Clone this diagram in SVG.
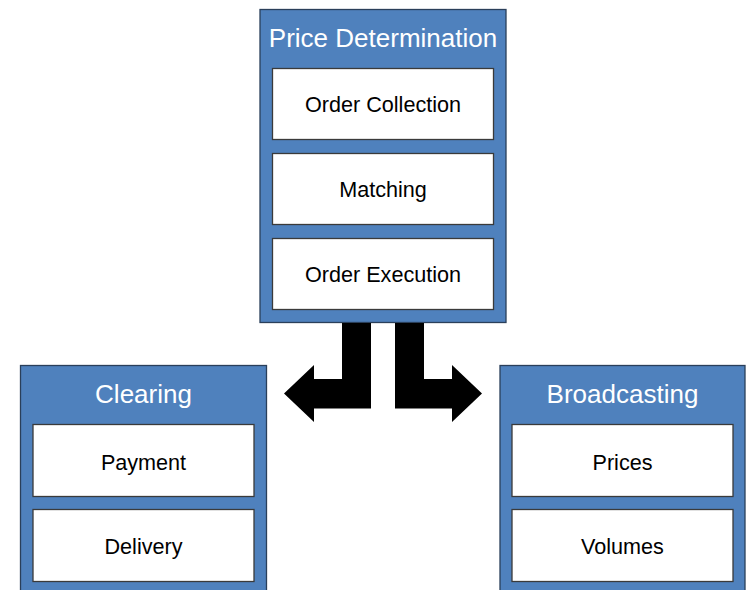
<svg xmlns="http://www.w3.org/2000/svg" width="748" height="590" viewBox="0 0 748 590">
<style>
.outer{fill:#4F81BD;stroke:#2A3F5A;stroke-width:1.3}
.inner{fill:#FFFFFF;stroke:#3A3A3A;stroke-width:1.3}
.title{font-family:"Liberation Sans",Arial,sans-serif;font-size:26px;fill:#FFFFFF;text-anchor:middle}
.label{font-family:"Liberation Sans",Arial,sans-serif;font-size:21.6px;fill:#000000;text-anchor:middle}
.arrow{fill:#000000}
</style>
<rect width="748" height="590" fill="#FFFFFF"/>
<g id="price-determination">
<rect class="outer" x="260" y="9.5" width="246" height="313"/>
<text class="title" x="383" y="47">Price Determination</text>
<g id="order-collection"><rect class="inner" x="272.5" y="68.5" width="221" height="71"/><text class="label" x="383" y="111.5">Order Collection</text></g>
<g id="matching"><rect class="inner" x="272.5" y="153.5" width="221" height="71"/><text class="label" x="383" y="196.5">Matching</text></g>
<g id="order-execution"><rect class="inner" x="272.5" y="238.5" width="221" height="71"/><text class="label" x="383" y="281.5">Order Execution</text></g>
</g>
<g id="clearing">
<rect class="outer" x="20.5" y="365.5" width="246" height="230"/>
<text class="title" x="143.5" y="403">Clearing</text>
<g id="payment"><rect class="inner" x="33" y="424.5" width="221" height="72"/><text class="label" x="143.5" y="469.5">Payment</text></g>
<g id="delivery"><rect class="inner" x="33" y="509.5" width="221" height="72"/><text class="label" x="143.5" y="553.5">Delivery</text></g>
</g>
<g id="broadcasting">
<rect class="outer" x="500" y="365.5" width="245" height="230"/>
<text class="title" x="622.5" y="403">Broadcasting</text>
<g id="prices"><rect class="inner" x="512" y="424.5" width="221" height="72"/><text class="label" x="622.5" y="469.5">Prices</text></g>
<g id="volumes"><rect class="inner" x="512" y="509.5" width="221" height="72"/><text class="label" x="622.5" y="553.5">Volumes</text></g>
</g>
<g id="connectors">
<path class="arrow" d="M342,323 H371 V408.5 H314 V422 L284,393.5 L314,365 V379 H342 Z"/>
<path class="arrow" d="M424,323 H395 V408.5 H452 V422 L482,393.5 L452,365 V379 H424 Z"/>
</g>
</svg>
